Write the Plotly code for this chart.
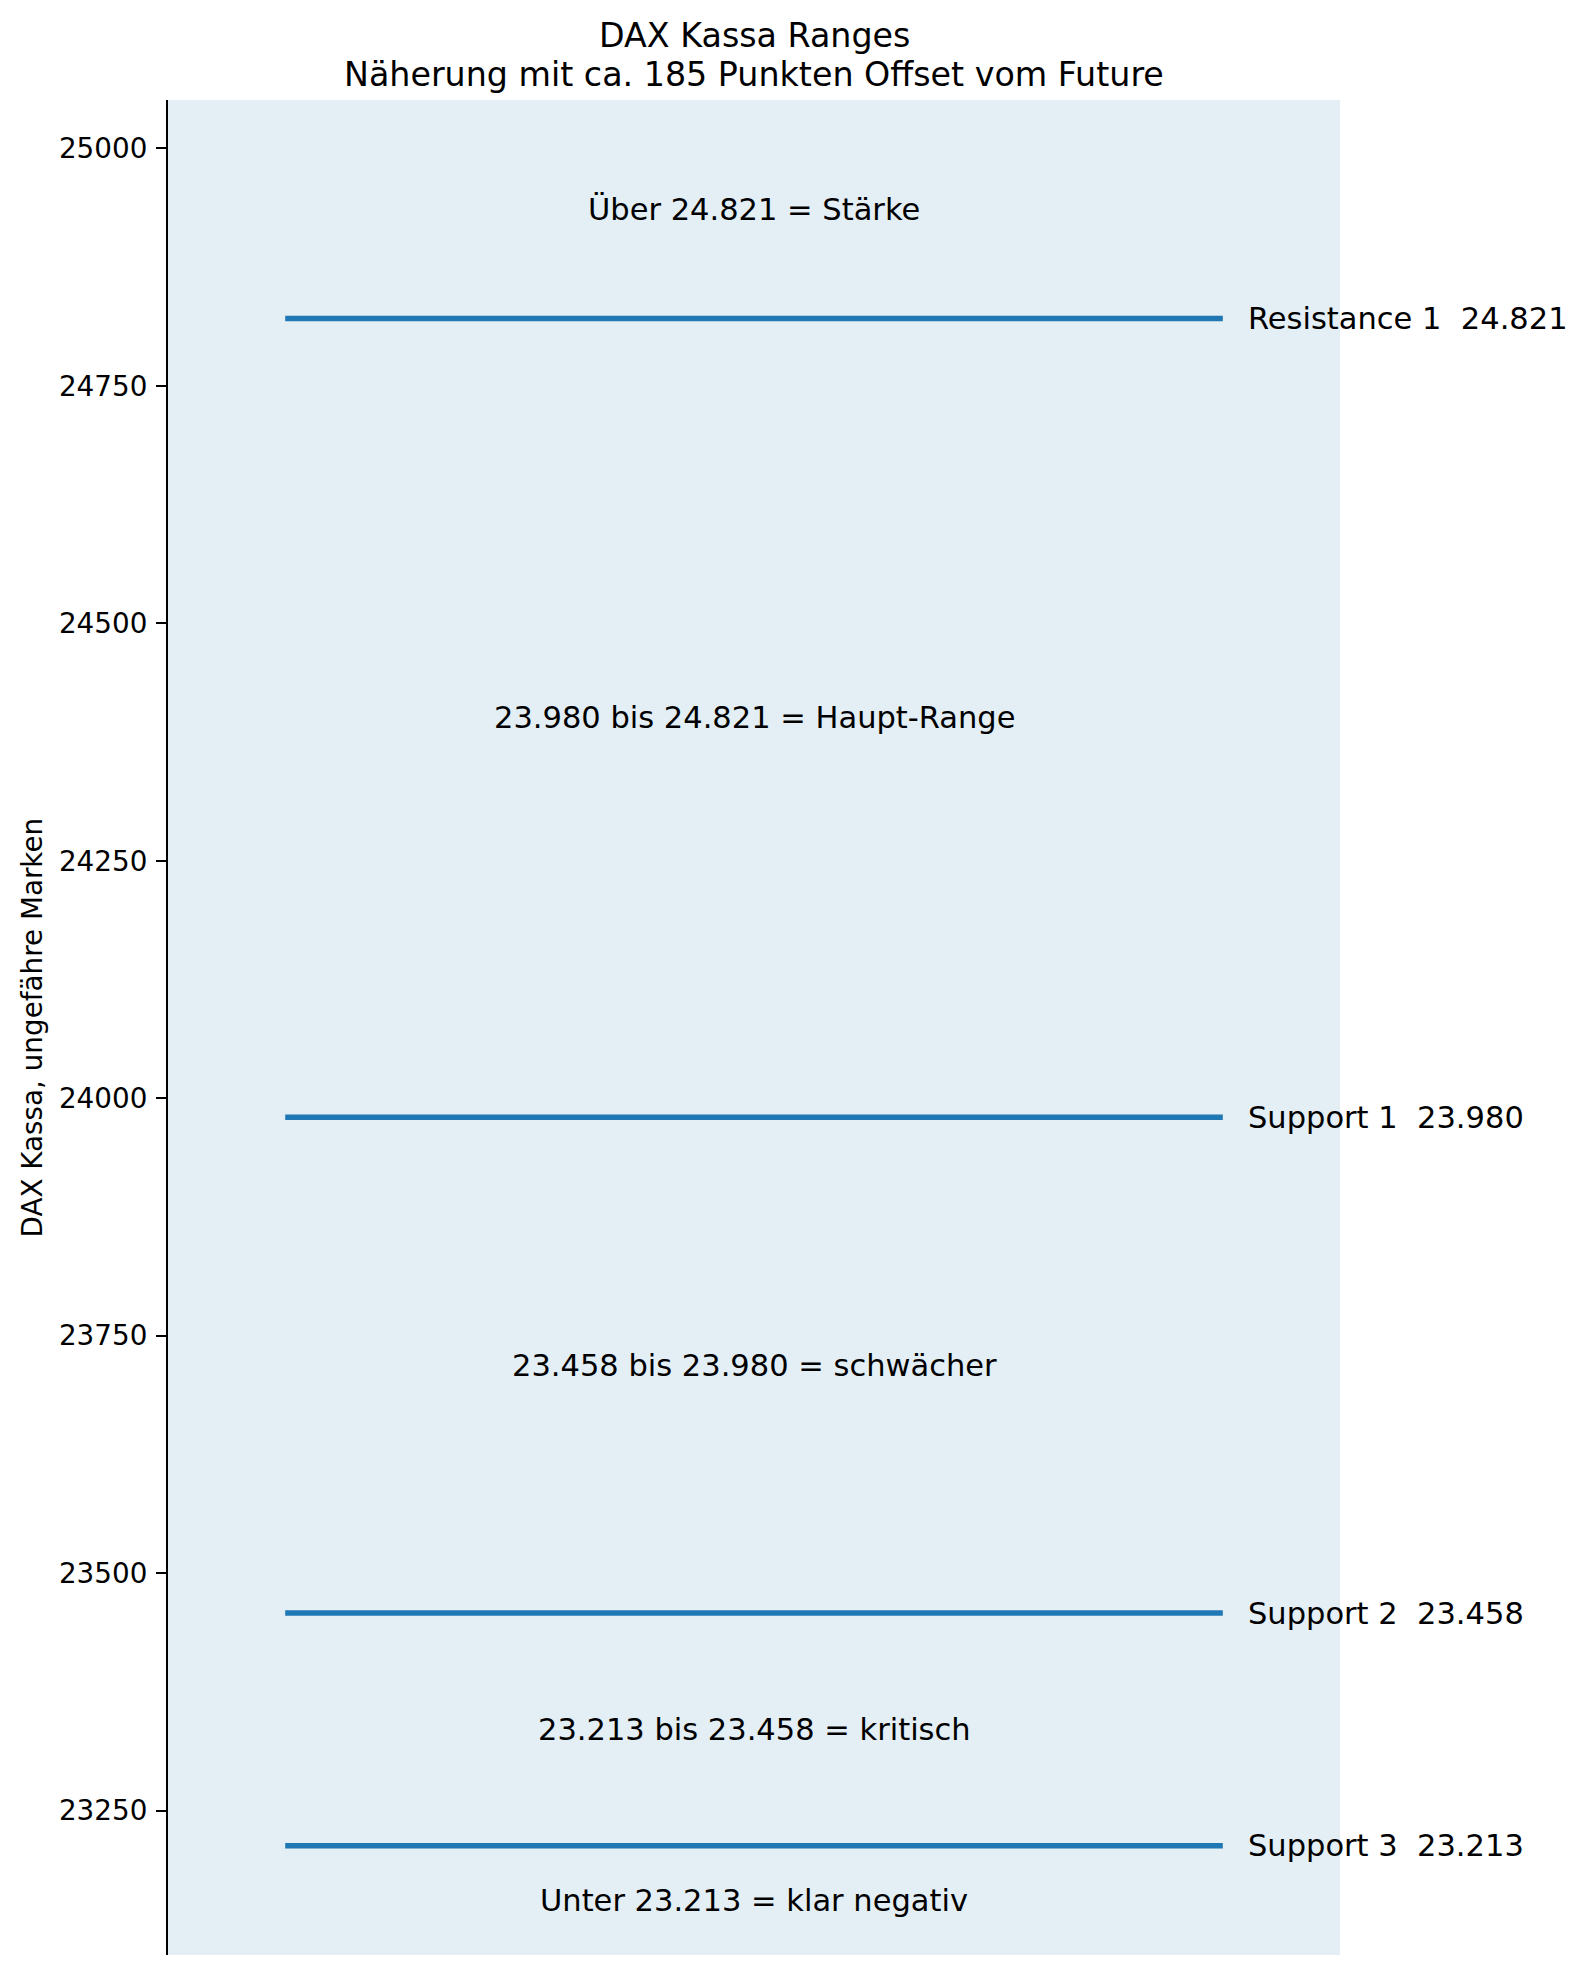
import plotly.graph_objects as go

levels = [24821, 23980, 23458, 23213]
level_labels = ["Resistance 1  24.821", "Support 1  23.980", "Support 2  23.458", "Support 3  23.213"]
zone_texts = ["Über 24.821 = Stärke", "23.980 bis 24.821 = Haupt-Range",
              "23.458 bis 23.980 = schwächer", "23.213 bis 23.458 = kritisch",
              "Unter 23.213 = klar negativ"]
y_min, y_max = 23098, 25051
tick_vals = [23250, 23500, 23750, 24000, 24250, 24500, 24750, 25000]

FONT = "DejaVu Sans"
OFF = 8  # default body margin of the html page
W, H = 1586 - 2 * OFF, 1974 - 2 * OFF
L, T = 168 - OFF, 100 - OFF
pw, ph = 1172, 1855
R, B = W - L - pw, H - T - ph

fig = go.Figure()
for v in levels:
    fig.add_trace(go.Scatter(x=[0.1, 0.9], y=[v, v], mode="lines",
                             line=dict(color="#1f77b4", width=5.6),
                             showlegend=False, hoverinfo="skip"))

ann = []
for v, lab in zip(levels, level_labels):
    ann.append(dict(x=0.92, y=v, xref="x", yref="y", text=lab, showarrow=False,
                    xanchor="left", yanchor="middle",
                    font=dict(family=FONT, size=30.5, color="black")))

bounds = [y_max] + levels + [y_min]
for i, t in enumerate(zone_texts):
    mid = (bounds[i] + bounds[i + 1]) / 2
    ann.append(dict(x=0.5, y=mid, xref="x", yref="y", text=t, showarrow=False,
                    xanchor="center", yanchor="middle",
                    font=dict(family=FONT, size=30.5, color="black")))

ann.append(dict(x=0.5, y=1 + (T - (36 - OFF)) / ph, xref="paper", yref="paper",
                text="DAX Kassa Ranges", showarrow=False, xanchor="center", yanchor="middle",
                font=dict(family=FONT, size=33.3, color="black")))
ann.append(dict(x=0.5, y=1 + (T - (74 - OFF)) / ph, xref="paper", yref="paper",
                text="Näherung mit ca. 185 Punkten Offset vom Future", showarrow=False,
                xanchor="center", yanchor="middle",
                font=dict(family=FONT, size=33.3, color="black")))
ann.append(dict(x=((32 - OFF) - L) / pw, y=0.5, xref="paper", yref="paper",
                text="DAX Kassa, ungefähre Marken", showarrow=False, textangle=-90,
                xanchor="center", yanchor="middle",
                font=dict(family=FONT, size=27.8, color="black")))

fig.update_layout(
    width=W, height=H,
    margin=dict(l=L, r=R, t=T, b=B, autoexpand=False),
    paper_bgcolor="white", plot_bgcolor="#e3eef5",
    font=dict(family=FONT, color="black"),
    annotations=ann,
    xaxis=dict(range=[0, 1], visible=False, showgrid=False, zeroline=False, fixedrange=True),
    yaxis=dict(range=[y_min, y_max], tickvals=tick_vals, tickformat="d",
               showgrid=False, zeroline=False, showline=True, linecolor="black", linewidth=2.2,
               ticks="outside", ticklen=10, tickwidth=2.2, tickcolor="black",
               ticklabelstandoff=3,
               tickfont=dict(family=FONT, size=27.8, color="black")),
)

fig.write_html("out.html")
